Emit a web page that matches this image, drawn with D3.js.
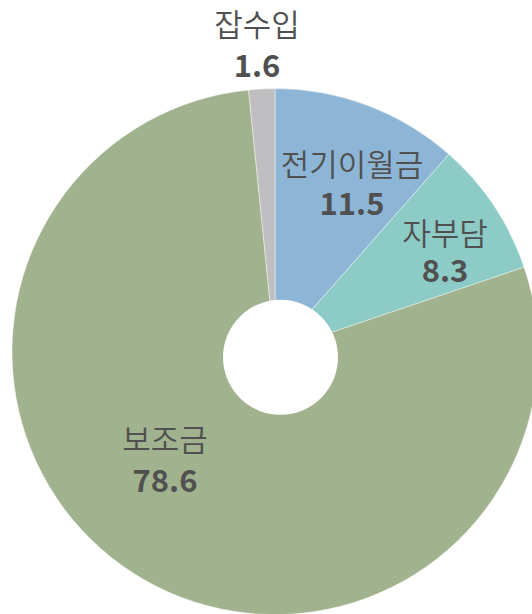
<!DOCTYPE html>
<html><head><meta charset="utf-8">
<script src="https://cdn.jsdelivr.net/npm/d3@7"></script>
<style>html,body{margin:0;padding:0;background:#fff;overflow:hidden}</style>
</head><body>
<svg id="c" width="532" height="614"></svg>
<script>
const categories = ["전기이월금", "자부담", "보조금", "잡수입"];
const values = [11.5, 8.3, 78.6, 1.6];
const valueLabels = ["11.5", "8.3", "78.6", "1.6"];
const colors = ["#8db6d6", "#8ccbc6", "#a0b28e", "#bfbfc1"];

// layout (label anchor positions: category baseline / value baseline)
const labelLayout = [
  {x: 352, y1: 176, y2: 215},
  {x: 445, y1: 245, y2: 282},
  {x: 165, y1: 451, y2: 492},
  {x: 257, y1: 36,  y2: 77}
];

const svg = d3.select("#c");
const cx = 275, cy = 351.6, R = 263;
const g = svg.append("g").attr("transform", `translate(${cx},${cy})`);
const pie = d3.pie().sort(null).value(d => d)(values);
const arc = d3.arc().innerRadius(0).outerRadius(R);
g.selectAll("path").data(pie).join("path")
  .attr("d", arc)
  .attr("fill", (d, i) => colors[i])
  .attr("stroke", "#ffffff").attr("stroke-width", 0.6).attr("stroke-opacity", 0.7);

// hole
svg.append("circle").attr("cx", 280.5).attr("cy", 357.3).attr("r", 57.5).attr("fill", "#fff");

const font = "'Noto Sans CJK KR', 'Noto Sans', sans-serif";
const lab = svg.append("g").attr("fill", "#505050").attr("text-anchor", "middle").style("font-family", font);
categories.forEach((c, i) => {
  const L = labelLayout[i];
  lab.append("text").attr("x", L.x).attr("y", L.y1).style("font-size", "31px").style("font-weight", 350).text(c);
  lab.append("text").attr("x", L.x).attr("y", L.y2).style("font-size", "31px").style("font-weight", 700).text(valueLabels[i]);
});
</script>
</body></html>
